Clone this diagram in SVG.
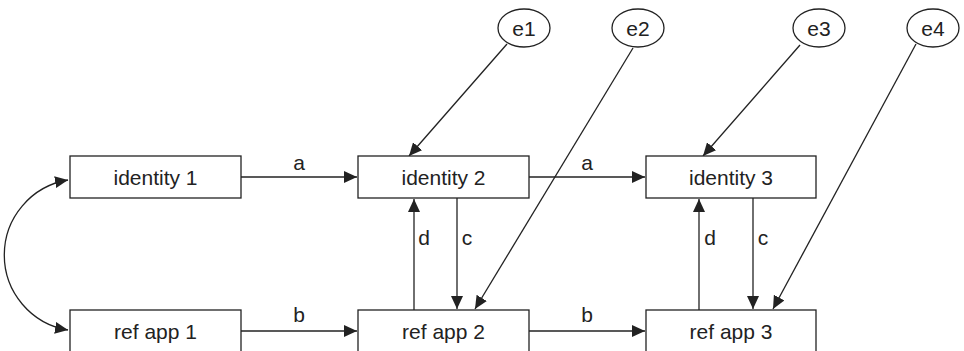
<svg xmlns="http://www.w3.org/2000/svg" width="964" height="351" viewBox="0 0 964 351">
<style>
.box{fill:#fff;stroke:#222;stroke-width:1.3}
.t{font-family:"Liberation Sans",Arial,sans-serif;font-size:21px;fill:#222;text-anchor:middle}
.c{fill:none;stroke:#222;stroke-width:1.3}
</style>
<defs>
<marker id="ah" markerUnits="userSpaceOnUse" markerWidth="14" markerHeight="12" viewBox="0 0 14 12" refX="13" refY="6" orient="auto-start-reverse">
<path d="M0,0 L13,6 L0,12 Z" fill="#222"/>
</marker>
</defs>
<rect width="964" height="351" fill="#fff"/>
<g id="connectors">
<path class="c" d="M68,180 A76 76 0 0 0 68,330" marker-start="url(#ah)" marker-end="url(#ah)"/>
<line class="c" x1="241" y1="177" x2="357" y2="177" marker-end="url(#ah)"/>
<line class="c" x1="529" y1="177" x2="645" y2="177" marker-end="url(#ah)"/>
<line class="c" x1="241" y1="331" x2="357" y2="331" marker-end="url(#ah)"/>
<line class="c" x1="529" y1="331" x2="645" y2="331" marker-end="url(#ah)"/>
<line class="c" x1="414" y1="310" x2="414" y2="199" marker-end="url(#ah)"/>
<line class="c" x1="457" y1="198" x2="457" y2="309" marker-end="url(#ah)"/>
<line class="c" x1="699" y1="310" x2="699" y2="199" marker-end="url(#ah)"/>
<line class="c" x1="753" y1="198" x2="753" y2="309" marker-end="url(#ah)"/>
<line class="c" x1="507" y1="44" x2="409" y2="156" marker-end="url(#ah)"/>
<line class="c" x1="633" y1="48" x2="475" y2="309" marker-end="url(#ah)"/>
<line class="c" x1="800" y1="45" x2="703" y2="156" marker-end="url(#ah)"/>
<line class="c" x1="916" y1="44" x2="773" y2="309" marker-end="url(#ah)"/>
<text class="t" x="299" y="170">a</text>
<text class="t" x="587" y="170">a</text>
<text class="t" x="299" y="322">b</text>
<text class="t" x="587" y="322">b</text>
<text class="t" x="424" y="245">d</text>
<text class="t" x="467" y="245">c</text>
<text class="t" x="710" y="245">d</text>
<text class="t" x="763" y="245">c</text>
</g>
<g id="identity1"><rect class="box" x="70" y="156" width="171" height="42"/><text class="t" x="155.5" y="184.5">identity 1</text></g>
<g id="identity2"><rect class="box" x="358" y="156" width="171" height="42"/><text class="t" x="443.5" y="184.5">identity 2</text></g>
<g id="identity3"><rect class="box" x="646" y="156" width="170" height="42"/><text class="t" x="731" y="184.5">identity 3</text></g>
<g id="refapp1"><rect class="box" x="70" y="310" width="171" height="43"/><text class="t" x="155.5" y="338.5">ref app 1</text></g>
<g id="refapp2"><rect class="box" x="358" y="310" width="171" height="43"/><text class="t" x="443.5" y="338.5">ref app 2</text></g>
<g id="refapp3"><rect class="box" x="646" y="310" width="170" height="43"/><text class="t" x="731" y="338.5">ref app 3</text></g>
<g id="e1"><ellipse class="box" cx="524" cy="28" rx="26" ry="19"/><text class="t" x="524" y="35.5">e1</text></g>
<g id="e2"><ellipse class="box" cx="638" cy="28" rx="26" ry="19"/><text class="t" x="638" y="35.5">e2</text></g>
<g id="e3"><ellipse class="box" cx="819" cy="28" rx="26" ry="19"/><text class="t" x="819" y="35.5">e3</text></g>
<g id="e4"><ellipse class="box" cx="933" cy="28" rx="26" ry="19"/><text class="t" x="933" y="35.5">e4</text></g>
</svg>
